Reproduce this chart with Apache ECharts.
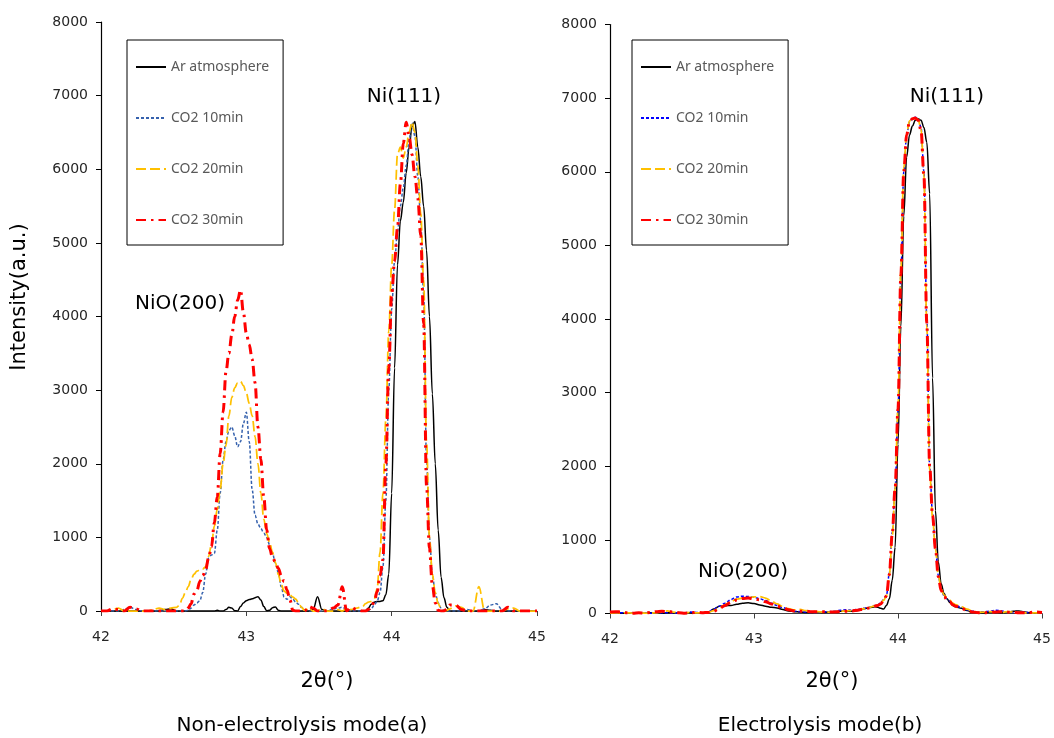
<!DOCTYPE html>
<html><head><meta charset="utf-8">
<script src="https://cdn.jsdelivr.net/npm/echarts/dist/echarts.min.js"></script>
<style>html,body{margin:0;padding:0;background:#fff}#c{width:1054px;height:738px}</style>
</head><body><div id="c"></div>
<script>
// ---------- data ----------
const seriesNames = ['Ar atmosphere', 'CO2 10min', 'CO2 20min', 'CO2 30min'];
const xTickValues = [42, 43, 44, 45];
const yTickValues = [0, 1000, 2000, 3000, 4000, 5000, 6000, 7000, 8000];

// Non-electrolysis mode (a): 2θ grid
const xL = [
42.00,42.04,42.08,42.12,42.16,42.20,42.24,42.28,42.32,42.36,42.40,42.44,42.48,42.52,
42.54,42.56,42.58,42.60,42.62,42.64,42.66,42.68,42.70,42.72,42.74,42.76,42.78,
42.80,42.82,42.84,42.86,42.88,42.90,42.92,42.94,42.96,42.98,43.00,
43.02,43.04,43.06,43.08,43.10,43.12,43.14,43.16,43.18,43.20,43.22,43.24,43.26,43.28,43.30,43.32,43.34,43.36,43.38,43.40,
43.43,43.46,43.49,43.52,43.56,43.60,43.63,43.66,43.69,43.72,43.76,43.80,
43.82,43.84,43.86,43.88,43.90,43.92,43.94,43.96,43.98,44.00,44.02,44.04,44.06,44.08,44.10,44.12,44.14,44.16,44.18,44.20,44.22,44.24,44.26,44.28,44.30,44.32,44.34,44.36,44.38,44.40,
44.44,44.48,44.52,44.56,44.60,44.64,44.68,44.72,44.76,44.80,44.84,44.88,44.92,44.96,45.00];

const arL = [
0,0,0,0,0,0,0,0,0,0,0,20,30,0,
0,0,0,0,0,0,0,0,0,0,0,0,0,
10,0,0,20,50,40,5,0,60,110,140,
155,165,180,195,150,60,5,10,45,55,10,0,0,0,0,0,0,0,0,0,
0,20,195,20,0,0,0,0,0,0,0,0,
0,40,90,120,130,130,140,220,500,1600,3300,4700,5300,5550,5950,6300,6580,6650,6300,5900,5500,4900,4000,2950,2000,1100,460,180,50,0,
0,0,0,0,0,20,10,0,0,0,0,0,0,0,0];

const co2_10L = [
0,0,0,0,20,50,20,0,0,0,0,0,0,0,
0,0,0,10,40,80,110,140,250,500,720,760,780,
1100,1600,2050,2300,2450,2500,2380,2230,2300,2550,2700,
2300,1650,1300,1180,1120,1060,1000,900,780,650,520,330,190,160,195,160,120,90,50,20,
0,0,0,0,0,30,40,50,20,0,0,0,
0,10,30,80,130,250,600,1500,3000,4100,4750,5150,5500,5750,6050,6400,6630,6450,5900,5300,4300,2050,1000,500,240,110,40,10,0,0,
0,0,20,0,0,30,80,100,20,0,0,0,0,0,0];

const co2_20L = [
0,0,20,40,0,0,0,0,0,20,40,20,40,50,
80,170,250,330,430,500,540,557,570,600,740,900,1150,
1380,1650,2000,2250,2650,2900,3030,3100,3120,3060,2960,
2820,2650,2370,2000,1600,1250,1050,930,800,660,500,360,270,240,217,190,160,110,50,10,
40,0,0,30,0,0,20,0,40,20,40,60,
100,120,130,160,300,800,1600,2600,3800,4700,5450,6200,6300,6150,6300,6500,6640,6500,6050,5400,4500,2300,1000,500,250,100,30,0,10,30,
70,50,0,0,330,0,0,0,0,30,40,0,0,0,0];

const co2_30L = [
0,0,30,20,0,50,30,0,0,0,0,0,0,0,
0,0,0,40,100,230,280,400,480,560,720,870,1200,
1550,2140,2700,3250,3500,3750,4000,4220,4360,4050,3770,
3620,3420,3100,2500,2060,1550,1100,850,730,660,580,480,400,285,150,10,0,0,0,0,
60,40,0,0,0,40,80,330,0,50,20,0,
0,20,50,130,260,480,700,2000,3300,4300,4750,5200,5800,6350,6640,6450,6200,5900,5600,5100,3900,1700,850,350,110,10,0,0,30,80,
80,20,0,0,0,0,0,0,0,50,0,0,0,0,0];

// Electrolysis mode (b): 2θ grid
const xR = [
42.00,42.04,42.08,42.12,42.16,42.20,42.24,42.28,42.32,42.36,42.40,42.44,42.48,42.52,42.56,42.60,42.64,42.68,
42.72,42.76,42.80,42.84,42.88,42.92,42.96,43.00,43.04,43.08,43.12,43.16,43.20,43.24,43.28,43.32,43.36,43.40,43.44,43.48,43.52,43.56,43.60,43.64,43.68,43.72,43.76,43.80,
43.82,43.84,43.86,43.88,43.90,43.92,43.94,43.96,43.98,44.00,44.02,44.04,44.06,44.08,44.10,44.12,44.14,44.16,44.18,44.20,44.22,44.24,44.26,44.28,44.30,44.32,44.34,44.36,44.38,44.40,
44.44,44.48,44.52,44.56,44.60,44.64,44.68,44.72,44.76,44.80,44.84,44.88,44.92,44.96,45.00];

const arR = [
10,10,5,10,5,10,5,10,10,5,10,10,5,10,10,10,5,10,
60,100,105,110,125,140,145,135,115,100,85,75,55,35,25,20,15,15,20,15,20,25,30,30,30,40,65,80,
85,90,85,70,60,110,200,450,900,2300,3900,5400,6200,6500,6620,6700,6720,6700,6600,6400,5700,3200,1400,700,400,270,200,150,110,90,
70,40,20,15,10,20,15,10,20,30,35,20,10,5,5];

const co2_10R = [
10,5,10,5,10,5,10,5,10,10,10,5,10,10,20,15,10,20,
60,100,140,190,225,235,230,220,200,175,140,110,80,55,35,25,20,15,15,20,25,30,45,50,45,55,70,80,
95,110,120,140,190,250,550,1100,1700,2750,4600,6000,6500,6680,6720,6740,6720,6600,6000,4000,2000,1350,900,520,320,240,200,170,130,110,
80,50,30,20,25,30,45,35,20,15,20,15,10,10,10];

const co2_20R = [
5,10,5,10,5,10,5,5,10,20,35,20,5,10,15,10,10,15,
40,80,120,165,195,210,215,225,230,210,170,130,95,65,50,55,40,30,25,20,20,25,30,35,40,50,65,80,
95,105,115,135,180,240,520,1050,1700,2800,4650,6050,6520,6690,6720,6730,6710,6580,5950,3900,1950,1300,880,520,330,250,210,180,140,120,
90,60,30,15,20,25,20,15,25,20,15,10,5,10,15];

const co2_30R = [
20,25,20,10,5,10,5,15,25,30,25,20,10,5,10,15,10,15,
30,70,110,150,185,205,210,200,185,160,130,100,75,50,35,30,30,25,25,25,20,20,25,30,35,45,60,75,
90,100,110,130,175,240,530,1080,1700,2780,4600,6000,6500,6680,6720,6730,6700,6560,5950,3950,2000,1330,880,500,310,230,190,160,120,100,
70,40,20,10,10,15,20,25,20,15,10,10,15,20,15];

// ---------- chart ----------
function pairs(xs, ys, tag) {
  if (xs.length !== ys.length) throw new Error('length mismatch ' + tag + ': ' + xs.length + ' vs ' + ys.length);
  return xs.map((x, i) => [x, ys[i]]);
}
const FONT = 'DejaVu Sans';
const styles = [
  { color: '#000000', width: 1.5, type: 'solid' },
  { color: '#3561AD', width: 1.5, type: [3, 2] },
  { color: '#FFC000', width: 1.75, type: [10, 4] },
  { color: '#FF0000', width: 3, type: [10, 5, 2.5, 5] }
];
const rightBlue = '#0000FF';
const panels = [
  { xs: xL, ys: [arL, co2_10L, co2_20L, co2_30L] },
  { xs: xR, ys: [arR, co2_10R, co2_20R, co2_30R] }
];

const series = [];
panels.forEach((p, pi) => {
  p.ys.forEach((ys, si) => {
    const st = Object.assign({}, styles[si]);
    if (pi === 1 && si === 1) st.color = rightBlue;
    series.push({
      name: seriesNames[si], type: 'line', xAxisIndex: pi, yAxisIndex: pi,
      data: pairs(p.xs, ys, pi + '-' + si), showSymbol: false, symbol: 'none',
      smooth: 0.35, smoothMonotone: 'x', clip: true,
      lineStyle: { color: st.color, width: st.width, type: st.type, cap: 'butt' },
      itemStyle: { color: st.color },
      emphasis: { disabled: true }, silent: true
    });
  });
});

function mkX(gi) {
  return {
    type: 'value', gridIndex: gi, min: xTickValues[0], max: xTickValues[xTickValues.length - 1], interval: 1,
    axisLine: { show: true, onZero: false, lineStyle: { color: '#404040', width: 1.2 } },
    axisTick: { show: true, length: 5, lineStyle: { color: '#404040' } },
    axisLabel: { fontSize: 14, color: '#262626', fontFamily: FONT, margin: 19, formatter: v => String(v) },
    splitLine: { show: false }
  };
}
function mkY(gi) {
  return {
    type: 'value', gridIndex: gi, min: yTickValues[0], max: yTickValues[yTickValues.length - 1], interval: 1000,
    axisLine: { show: true, lineStyle: { color: '#000', width: 1.2 } },
    axisTick: { show: true, length: 5, lineStyle: { color: '#000' } },
    axisLabel: { fontSize: 14, color: '#262626', fontFamily: FONT, margin: 13, formatter: v => String(v) },
    splitLine: { show: false }
  };
}
const legendBase = {
  orient: 'vertical', top: 40, itemWidth: 30, itemHeight: 14, itemGap: 37,
  padding: [20, 14, 18, 8], borderColor: '#000', borderWidth: 1, backgroundColor: '#fff',
  selectedMode: false, itemStyle: { opacity: 0, borderWidth: 0 },
  textStyle: { color: '#595959', fontSize: 14, fontFamily: 'Noto Sans' }
};
function txt(t, x, y, size, rot) {
  return { type: 'text', x: x, y: y, rotation: rot || 0, silent: true,
    style: { text: t, fill: '#000', font: size + 'px "' + FONT + '"', align: 'center', verticalAlign: 'middle' } };
}

const chart = echarts.init(document.getElementById('c'), null, { renderer: 'canvas' });
chart.setOption({
  animation: false,
  backgroundColor: '#fff',
  grid: [
    { left: 101, top: 22, width: 436, height: 589, containLabel: false, outerBoundsMode: 'none' },
    { left: 610, top: 24.5, width: 432, height: 589, containLabel: false, outerBoundsMode: 'none' }
  ],
  xAxis: [mkX(0), mkX(1)],
  yAxis: [mkY(0), mkY(1)],
  legend: [
    Object.assign({}, legendBase, { left: 127, data: seriesNames.slice() }),
    Object.assign({}, legendBase, { left: 632, data: [
      { name: seriesNames[0] },
      { name: seriesNames[1], lineStyle: { color: rightBlue } },
      { name: seriesNames[2] },
      { name: seriesNames[3] }
    ] })
  ],
  graphic: [
    txt('Ni(111)', 404, 97, 20),
    txt('NiO(200)', 180, 304, 20),
    txt('Ni(111)', 947, 97, 20),
    txt('NiO(200)', 743, 572, 20),
    txt('2θ(°)', 327, 682, 21),
    txt('2θ(°)', 832, 682, 21),
    txt('Non-electrolysis mode(a)', 302, 726, 20),
    txt('Electrolysis mode(b)', 820, 726, 20),
    txt('Intensity(a.u.)', 20, 297, 21, Math.PI / 2)
  ],
  series: series
});
</script></body></html>
